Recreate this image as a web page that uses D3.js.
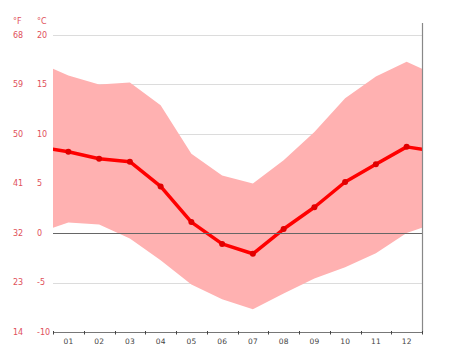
<!DOCTYPE html>
<html>
<head>
<meta charset="utf-8">
<script src="https://cdn.jsdelivr.net/npm/d3@7"></script>
<style>
  html, body { margin: 0; padding: 0; background: #fff; }
  svg { display: block; }
</style>
</head>
<body>
<div id="chart"></div>
<script>
// ---- data ----
const months = ["01","02","03","04","05","06","07","08","09","10","11","12"];
const meanTemp = [8.2, 7.5, 7.2, 4.7, 1.1, -1.1, -2.1, 0.4, 2.6, 5.15, 6.95, 8.7];
const maxTemp  = [15.9, 15.0, 15.2, 12.9, 8.0, 5.8, 5.0, 7.35, 10.2, 13.6, 15.8, 17.3];
const minTemp  = [1.05, 0.85, -0.55, -2.75, -5.2, -6.7, -7.7, -6.1, -4.6, -3.45, -2.05, 0.0];
const celsiusTicks = [20, 15, 10, 5, 0, -5, -10];
const fahrenheitTicks = ["68", "59", "50", "41", "32", "23", "14"];

// ---- layout ----
const W = 474, H = 355;
const mLeft = 53, mRight = 422, mTop = 35, mBottom = 332;

const svg = d3.select("#chart").append("svg")
  .attr("width", W).attr("height", H)
  .style("font-family", "'DejaVu Sans', Verdana, sans-serif");

const x = d3.scaleBand().domain(months).range([mLeft, mRight]).padding(0);
const y = d3.scaleLinear().domain([-10, 20]).range([mBottom, mTop]);
const bw = x.bandwidth();

// cyclic points: previous Dec, Jan..Dec, next Jan (clipped to plot)
const idx = d3.range(-1, 13);
const cx = i => mLeft + bw * (i + 0.5);
const at = (arr, i) => arr[(i + 12) % 12];

svg.append("defs").append("clipPath").attr("id", "plotclip")
  .append("rect").attr("x", mLeft).attr("y", 0).attr("width", mRight - mLeft).attr("height", H);

// grid lines
const gridVals = celsiusTicks.filter(v => v !== 0 && v !== -10);
svg.append("g").selectAll("line").data(gridVals).join("line")
  .attr("x1", mLeft).attr("x2", mRight)
  .attr("y1", d => Math.round(y(d)) + 0.5).attr("y2", d => Math.round(y(d)) + 0.5)
  .attr("stroke", "#dcdcdc").attr("stroke-width", 1);

const plot = svg.append("g").attr("clip-path", "url(#plotclip)");

// min-max band
const area = d3.area()
  .x(i => cx(i))
  .y0(i => y(at(minTemp, i)))
  .y1(i => y(at(maxTemp, i)));
plot.append("path").datum(idx).attr("d", area).attr("fill", "#ffb1b1");

// zero line
svg.append("line")
  .attr("x1", mLeft).attr("x2", mRight)
  .attr("y1", Math.round(y(0)) + 0.5).attr("y2", Math.round(y(0)) + 0.5)
  .attr("stroke", "#666").attr("stroke-width", 1.2);

// mean line
const line = d3.line().x(i => cx(i)).y(i => y(at(meanTemp, i)));
plot.append("path").datum(idx).attr("d", line)
  .attr("fill", "none").attr("stroke", "#ff0000").attr("stroke-width", 3.5)
  .attr("stroke-linejoin", "round");

// markers
svg.append("g").selectAll("circle").data(meanTemp).join("circle")
  .attr("cx", (d, i) => x(months[i]) + bw / 2)
  .attr("cy", d => y(d))
  .attr("r", 3)
  .attr("fill", "#e00000");

// right border
svg.append("line")
  .attr("x1", mRight + 0.5).attr("x2", mRight + 0.5)
  .attr("y1", 23).attr("y2", mBottom)
  .attr("stroke", "#888").attr("stroke-width", 1.2);

// x axis
const xAxis = d3.axisBottom(x).tickSize(0).tickPadding(7);
const gx = svg.append("g").attr("transform", `translate(0,${mBottom})`).call(xAxis);
gx.select(".domain").attr("stroke", "#777").attr("stroke-width", 1.2);
gx.selectAll("text").attr("fill", "#444").style("font-size", "7.5px")
  .style("font-family", "'DejaVu Sans', Verdana, sans-serif");
// boundary ticks
svg.append("g").selectAll("line").data(d3.range(0, 13)).join("line")
  .attr("x1", k => Math.round(mLeft + k * bw) + 0.5)
  .attr("x2", k => Math.round(mLeft + k * bw) + 0.5)
  .attr("y1", mBottom - 1).attr("y2", mBottom + 2.5)
  .attr("stroke", "#444").attr("stroke-width", 1);

// y labels
const labColor = "#e0505a";
const yl = svg.append("g").style("font-size", "8px").attr("fill", labColor);
yl.selectAll("text.c").data(celsiusTicks).join("text").attr("class", "c")
  .attr("x", 37).attr("y", d => y(d)).attr("dy", "0.35em")
  .text(d => d);
yl.selectAll("text.f").data(fahrenheitTicks).join("text").attr("class", "f")
  .attr("x", 13).attr("y", (d, i) => y(celsiusTicks[i])).attr("dy", "0.35em")
  .text(d => d);
yl.append("text").attr("x", 13).attr("y", 21).attr("dy", "0.35em").text("°F");
yl.append("text").attr("x", 37).attr("y", 21).attr("dy", "0.35em").text("°C");
</script>
</body>
</html>
